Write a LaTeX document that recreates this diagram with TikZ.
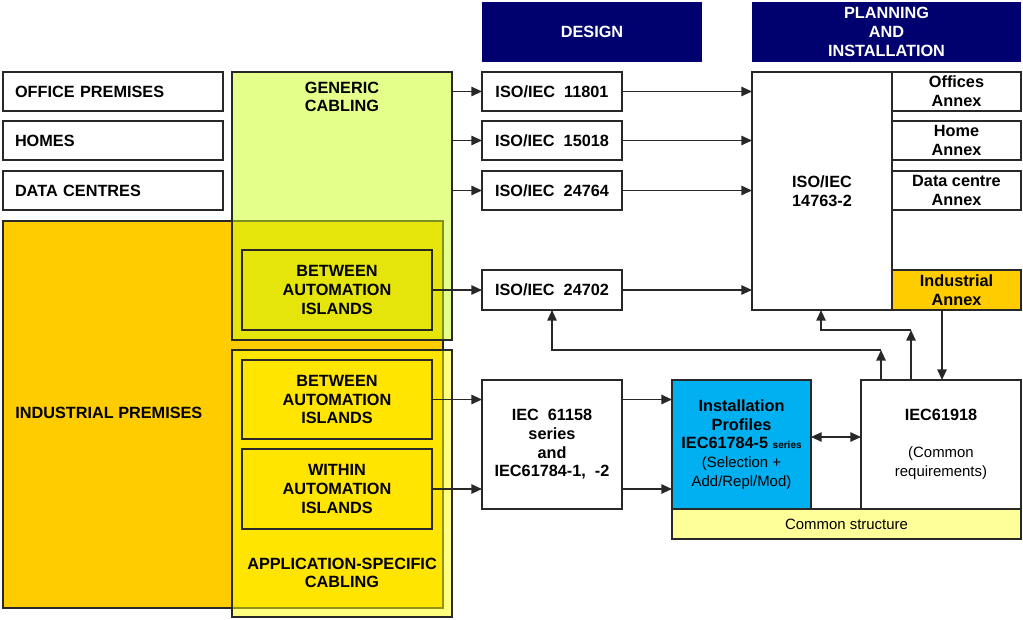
\documentclass[tikz,border=0pt]{standalone}
\usepackage{fontspec}
\setmainfont{Liberation Sans}
\usetikzlibrary{arrows.meta}
\definecolor{navy}{RGB}{0,0,110}
\definecolor{lc}{RGB}{40,40,40}
\definecolor{orng}{RGB}{255,204,0}
\definecolor{grn}{RGB}{205,255,25}
\definecolor{ylw}{RGB}{255,255,0}
\definecolor{cyanb}{RGB}{0,176,240}
\definecolor{lyel}{RGB}{255,255,153}
\newcommand\fA{\fontsize{12.2}{14}\selectfont\bfseries}
\newcommand\fR{\fontsize{11.2}{13.5}\selectfont\mdseries}
\newcommand\fS{\fontsize{7.5}{9}\selectfont\bfseries}
\begin{document}
\begin{tikzpicture}[x=0.75pt,y=-0.75pt,
  px/.style 2 args={minimum width=#1*0.75pt, minimum height=#2*0.75pt},
  bx/.style={draw=lc, line width=1.3pt, inner sep=0pt, outer sep=0pt, anchor=north west, font=\fA, align=center, fill=white},
  lbox/.style={bx, align=left, text width=#1*0.75pt-24*0.75pt, inner xsep=12*0.75pt},
  hdr/.style={anchor=north west, inner sep=0pt, outer sep=0pt, fill=navy, text=white, font=\fA, align=center},
  tip/.style={Triangle[length=8pt,width=7pt]},
  arr/.style={draw=lc, line width=1.3pt, -{Triangle[length=8pt,width=7pt]}},
  ln/.style={draw=lc, line width=1.3pt}]
\fill[white] (0,0) rectangle (1023,620);
\useasboundingbox (0,0) rectangle (1023,620);
% left premises
\node[lbox=220, px={220}{39}] (office) at (3,72) {OFFICE PREMISES};
\node[lbox=220, px={220}{39}] (homes) at (3,121) {HOMES};
\node[lbox=220, px={220}{39}] (dc) at (3,171) {DATA CENTRES};
\node[bx, fill=orng, px={440}{387}] (ind) at (3,221) {};
\node[anchor=west, font=\fA, inner sep=0pt] (indt) at (15,413) {INDUSTRIAL PREMISES};
% generic cabling
\node[bx, fill=grn, fill opacity=0.5, text opacity=1, px={220}{268}] (gen) at (232,72) {};
\node[font=\fA, align=center, inner sep=0pt] (gent) at (342,97) {GENERIC\\CABLING};
\node[bx, fill=none, px={190}{80}] (bet1) at (242,250) {BETWEEN\\AUTOMATION\\ISLANDS};
% application specific
\node[bx, fill=ylw, fill opacity=0.5, text opacity=1, px={220}{267}] (app) at (232,350) {};
\node[font=\fA, align=center, inner sep=0pt] (appt) at (342,573) {APPLICATION-SPECIFIC\\CABLING};
\node[bx, fill=none, px={190}{79}] (bet2) at (242,360) {BETWEEN\\AUTOMATION\\ISLANDS};
\node[bx, fill=none, px={190}{80}] (with) at (242,449) {WITHIN\\AUTOMATION\\ISLANDS};
% headers
\node[hdr, px={220}{60}] (design) at (482,2) {DESIGN};
\node[hdr, px={269}{60}] (plan) at (752,2) {PLANNING\\AND\\INSTALLATION};
% design boxes
\node[bx, px={140}{39}] (i11801) at (482,72) {ISO/IEC~~11801};
\node[bx, px={140}{39}] (i15018) at (482,121) {ISO/IEC~~15018};
\node[bx, px={140}{39}] (i24764) at (482,171) {ISO/IEC~~24764};
\node[bx, px={140}{40}] (i24702) at (482,270) {ISO/IEC~~24702};
% planning
\node[bx, px={140}{238}] (i14763) at (752,72) {ISO/IEC\\14763-2};
\node[bx, px={129}{39}] (aoff) at (892,72) {Offices\\Annex};
\node[bx, px={129}{39}] (ahome) at (892,121) {Home\\Annex};
\node[bx, px={129}{39}] (adc) at (892,171) {Data centre\\Annex};
\node[bx, fill=orng, px={129}{40}] (aind) at (892,270) {Industrial\\Annex};
% lower
\node[bx, px={140}{129}] (iec158) at (482,380) {IEC~~61158\\series\\and\\IEC61784-1,~~-2};
\node[bx, fill=lyel, px={349}{30}, font=\fR] (common) at (672,509) {Common structure};
\node[bx, fill=cyanb, px={139}{129}] (prof) at (672,380) {Installation\\Profiles\\IEC61784-5~{\fS series}\\{\fR(Selection +}\\{\fR Add/Repl/Mod)}};
\node[bx, px={160}{129}] (iec918) at (861,380) {IEC61918\\[14pt]{\fR(Common}\\{\fR requirements)}};
% arrows from cabling to design
\draw[arr] (gen.east |- i11801.west) -- (i11801.west);
\draw[arr] (gen.east |- i15018.west) -- (i15018.west);
\draw[arr] (gen.east |- i24764.west) -- (i24764.west);
\draw[arr] (bet1.east) -- (bet1.east -| i24702.west);
% design to planning
\draw[arr] (i11801.east) -- (i11801.east -| i14763.west);
\draw[arr] (i15018.east) -- (i15018.east -| i14763.west);
\draw[arr] (i24764.east) -- (i24764.east -| i14763.west);
\draw[arr] (i24702.east) -- (i24702.east -| i14763.west);
% application specific to IEC 61158
\draw[arr] (bet2.east) -- (bet2.east -| iec158.west);
\draw[arr] (with.east) -- (with.east -| iec158.west);
\draw[arr] (iec158.east |- bet2.east) -- (prof.west |- bet2.east);
\draw[arr] (iec158.east |- with.east) -- (prof.west |- with.east);
\draw[{Triangle[length=8pt,width=7pt]}-{Triangle[length=8pt,width=7pt]}, draw=lc, line width=1.3pt] (prof.east |- 0,437) -- (iec918.west |- 0,437);
% feedback paths
\coordinate (ja) at (881,350);
\coordinate (jb) at (911,330);
\draw[arr] (iec918.north -| ja) -- (ja);
\draw[arr] (ja) -- (ja -| i24702.south) -- (i24702.south);
\draw[arr] (iec918.north -| jb) -- (jb);
\draw[arr] (jb) -- (821,330) -- (i14763.south -| 821,0);
\draw[arr] (aind.south -| 942,0) -- (iec918.north -| 942,0);
\end{tikzpicture}
\end{document}
